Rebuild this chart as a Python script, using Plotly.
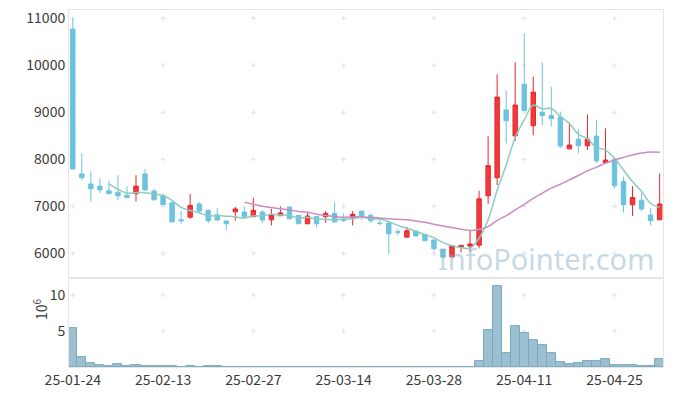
import plotly.graph_objects as go
from plotly.subplots import make_subplots
import pandas as pd

dates = [
    "25-01-24", "25-01-31",
    "25-02-03", "25-02-04", "25-02-05", "25-02-06", "25-02-07",
    "25-02-10", "25-02-11", "25-02-12", "25-02-13", "25-02-14",
    "25-02-17", "25-02-18", "25-02-19", "25-02-20", "25-02-21",
    "25-02-24", "25-02-25", "25-02-26", "25-02-27", "25-02-28",
    "25-03-04", "25-03-05", "25-03-06", "25-03-07",
    "25-03-10", "25-03-11", "25-03-12", "25-03-13", "25-03-14",
    "25-03-17", "25-03-18", "25-03-19", "25-03-20", "25-03-21",
    "25-03-24", "25-03-25", "25-03-26", "25-03-27", "25-03-28",
    "25-03-31", "25-04-01", "25-04-02", "25-04-03", "25-04-04",
    "25-04-07", "25-04-08", "25-04-09", "25-04-10", "25-04-11",
    "25-04-14", "25-04-15", "25-04-16", "25-04-17", "25-04-18",
    "25-04-21", "25-04-22", "25-04-23", "25-04-24", "25-04-25",
    "25-04-28", "25-04-29", "25-04-30", "25-05-02", "25-05-07",
]

opens = [10770, 7690, 7475, 7430, 7330, 7300, 7235, 7270, 7690, 7325,
         7225, 7075, 6715, 6770, 7050, 6915, 6820, 6690, 6885, 6880,
         6780, 6880, 6715, 6800, 6985, 6810, 6630, 6785, 6780, 6850,
         6715, 6760, 6900, 6810, 6645, 6645, 6460, 6345, 6475, 6405,
         6285, 6090, 5925, 6135, 6155, 6175, 7225, 7610, 9050, 8500,
         9600, 8715, 9000, 8935, 8900, 8225, 8430, 8290, 8495, 7930,
         8005, 7530, 7035, 7130, 6815, 6715]
highs = [11000, 8130, 7745, 7600, 7550, 7665, 7425, 7665, 7795, 7375,
         7270, 7100, 6900, 7260, 7100, 6930, 6965, 6690, 6990, 7000,
         7185, 6920, 6950, 7000, 7000, 6815, 6870, 6790, 6900, 7090,
         6850, 6900, 6900, 6850, 6725, 6645, 6515, 6565, 6490, 6410,
         6290, 6095, 6160, 6180, 6495, 7330, 8490, 9810, 9470, 10065,
         10680, 9760, 10065, 9545, 9015, 8780, 8640, 8955, 8835, 8660,
         8010, 7630, 7430, 7285, 6965, 7700]
lows = [7790, 7550, 7105, 7280, 7260, 7130, 7180, 7105, 7325, 7120,
        7030, 6670, 6630, 6735, 6850, 6640, 6700, 6495, 6700, 6770,
        6770, 6650, 6595, 6800, 6730, 6630, 6620, 6555, 6650, 6660,
        6665, 6595, 6710, 6650, 6595, 5985, 6385, 6345, 6360, 6260,
        6055, 5900, 5920, 6020, 6035, 6105, 7050, 7455, 8340, 8390,
        9030, 8510, 8725, 8700, 8245, 8210, 8130, 8200, 7920, 7920,
        7385, 6870, 6795, 6895, 6595, 6715]
closes = [7795, 7610, 7375, 7350, 7270, 7225, 7185, 7430, 7350, 7140,
          7035, 6670, 6695, 7020, 6900, 6695, 6710, 6630, 6945, 6780,
          6915, 6710, 6815, 6860, 6735, 6630, 6795, 6630, 6850, 6670,
          6705, 6830, 6780, 6695, 6635, 6415, 6450, 6480, 6370, 6270,
          6100, 5920, 6160, 6170, 6200, 7160, 7865, 9325, 8820, 9155,
          9035, 9430, 8930, 8865, 8285, 8305, 8290, 8430, 7970, 7985,
          7440, 7035, 7190, 6945, 6695, 7050]
# volume in units of 10^6 shares
volumes = [5.42, 1.39, 0.56, 0.32, 0.14, 0.42, 0.14, 0.28, 0.14, 0.14,
           0.14, 0.14, 0.02, 0.14, 0.02, 0.14, 0.14, 0.02, 0.02, 0.02,
           0.02, 0.02, 0.02, 0.02, 0.02, 0.02, 0.02, 0.02, 0.02, 0.02,
           0.02, 0.02, 0.02, 0.02, 0.02, 0.02, 0.02, 0.02, 0.02, 0.02,
           0.02, 0.02, 0.02, 0.02, 0.02, 0.83, 5.14, 11.25, 1.94, 5.69,
           4.72, 3.75, 3.06, 1.94, 0.69, 0.42, 0.56, 0.83, 0.83, 1.11,
           0.28, 0.28, 0.28, 0.14, 0.14, 1.11]

price_ticks = [6000, 7000, 8000, 9000, 10000, 11000]
price_tick_labels = ["6000", "7000", "8000", "9000", "10000", "11000"]
volume_ticks = [5, 10]
volume_tick_labels = ["5", "10"]
date_ticks = dates[::10]

ma5 = pd.Series(closes).rolling(5).mean()
ma20 = pd.Series(closes).rolling(20).mean()

FONT = "Noto Sans CJK KR, Noto Sans, sans-serif"
GRID = "#e2e2e2"
FRAME = "#e6e6e6"
TICKFONT = dict(size=14, color="#3a3a3a")

fig = make_subplots(rows=2, cols=1, shared_xaxes=True, vertical_spacing=0)

fig.add_trace(go.Candlestick(
    x=dates, open=opens, high=highs, low=lows, close=closes,
    increasing=dict(line=dict(color="#e8262c", width=1), fillcolor="#ef3b3b"),
    decreasing=dict(line=dict(color="#6cc3de", width=1), fillcolor="#6cc3de"),
    whiskerwidth=0,
), row=1, col=1)

fig.add_trace(go.Scatter(x=dates, y=ma5, mode="lines",
                         line=dict(color="#8ccbc0", width=1.5, shape="spline"),
                         hoverinfo="skip"), row=1, col=1)
fig.add_trace(go.Scatter(x=dates, y=ma20, mode="lines",
                         line=dict(color="#c98cc3", width=1.5, shape="spline"),
                         hoverinfo="skip"), row=1, col=1)

fig.add_trace(go.Bar(x=dates, y=volumes,
                     marker=dict(color="#9cc0d1",
                                 line=dict(color="#7aa8bd", width=1))),
              row=2, col=1)

# grid "+" marks drawn beneath the data (fixed pixel size)
def add_cross(xref, yref, xcat, yval):
    xi = dates.index(xcat)
    fig.add_shape(type="line", xref=xref, yref=yref, layer="below",
                  xsizemode="pixel", xanchor=xi, x0=-2.5, x1=2.5,
                  y0=yval, y1=yval, line=dict(color=GRID, width=1))
    fig.add_shape(type="line", xref=xref, yref=yref, layer="below",
                  ysizemode="pixel", yanchor=yval, y0=-2.5, y1=2.5,
                  x0=xi, x1=xi, line=dict(color=GRID, width=1))

for d in date_ticks:
    for p in price_ticks:
        add_cross("x", "y", d, p)
    for v in volume_ticks:
        add_cross("x2", "y2", d, v)

xr = [-0.42, 65.37]
fig.update_layout(
    width=673, height=396,
    margin=dict(l=69, r=10, t=10, b=29, autoexpand=False),
    paper_bgcolor="white", plot_bgcolor="white",
    showlegend=False, bargap=0,
    font=dict(family=FONT, size=14, color="#3a3a3a"),
    xaxis=dict(type="category", range=xr, showgrid=False, zeroline=False,
               showticklabels=False, showline=True, linecolor=FRAME,
               mirror=True, rangeslider=dict(visible=False),
               categoryorder="array", categoryarray=dates),
    xaxis2=dict(type="category", range=xr, showgrid=False, zeroline=False,
                tickmode="array", tickvals=date_ticks, ticktext=date_ticks,
                ticks="", showline=True, linecolor=FRAME, mirror=True,
                categoryorder="array", categoryarray=dates,
                tickfont=TICKFONT),
    yaxis=dict(domain=[0.249, 1], range=[5474, 11177], showgrid=False,
               zeroline=False, tickmode="array", tickvals=price_ticks,
               ticktext=price_tick_labels,
               ticks="", showline=True, linecolor=FRAME, mirror=True,
               tickfont=TICKFONT),
    yaxis2=dict(domain=[0, 0.249], range=[0, 12.37], showgrid=False,
                zeroline=False, tickmode="array", tickvals=volume_ticks,
                ticktext=volume_tick_labels,
                ticks="", showline=True, linecolor=FRAME, mirror=True,
                tickfont=TICKFONT),
)

fig.add_annotation(text="10<sup>6</sup>", xref="paper", yref="paper",
                   x=-0.07, y=0.126, textangle=-90, showarrow=False,
                   font=dict(size=14, color="#3a3a3a"))
fig.add_annotation(text="InfoPointer.com", xref="paper", yref="paper",
                   x=0.988, y=0.305, xanchor="right", yanchor="middle",
                   showarrow=False,
                   font=dict(family="Noto Sans, sans-serif", size=29,
                             color="rgba(140,178,200,0.5)"))

fig.write_html("out.html", config={"responsive": False, "displayModeBar": False},
               post_script="document.body.style.margin='0';")
